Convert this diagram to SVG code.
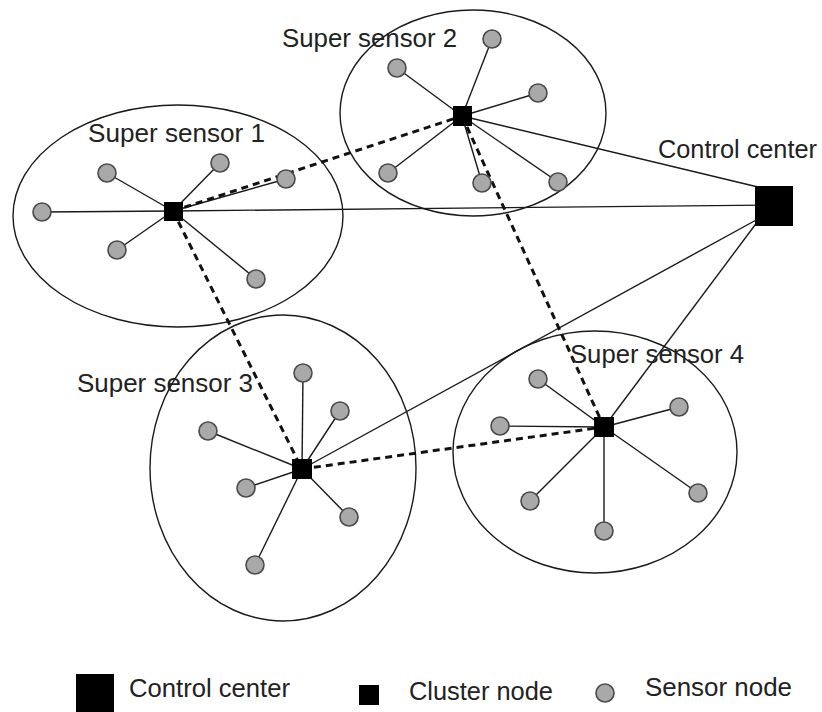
<svg xmlns="http://www.w3.org/2000/svg" width="822" height="712" viewBox="0 0 822 712">
  <style>
    .zone { fill: none; stroke: #1a1a1a; stroke-width: 1.4; }
    .link { stroke: #1a1a1a; stroke-width: 1.4; fill: none; }
    .backbone { stroke: #111; stroke-width: 3; stroke-dasharray: 7 5; fill: none; }
    .sensor { fill: #a9a9a9; stroke: #4a4a4a; stroke-width: 1.6; }
    .cluster { fill: #000; }
    .label { font-family: "Liberation Sans", Arial, sans-serif; font-size: 25px; fill: #222; }
  </style>

  <rect width="822" height="712" fill="#fff"/>

  <!-- coverage areas of the super sensors -->
  <g id="zones">
    <ellipse class="zone" cx="178" cy="216" rx="165" ry="111"/>
    <ellipse class="zone" cx="473" cy="113" rx="133" ry="103"/>
    <ellipse class="zone" cx="283" cy="468" rx="133" ry="153"/>
    <ellipse class="zone" cx="595" cy="452" rx="142" ry="121"/>
  </g>

  <g id="connectors">
    <!-- sensor links, cluster 1 -->
    <line class="link" x1="173" y1="211" x2="42" y2="212"/>
    <line class="link" x1="173" y1="211" x2="107" y2="173"/>
    <line class="link" x1="173" y1="211" x2="220" y2="163"/>
    <line class="link" x1="173" y1="211" x2="286" y2="179"/>
    <line class="link" x1="173" y1="211" x2="117" y2="250"/>
    <line class="link" x1="173" y1="211" x2="256" y2="279"/>
    <!-- sensor links, cluster 2 -->
    <line class="link" x1="462" y1="116" x2="492" y2="39"/>
    <line class="link" x1="462" y1="116" x2="397" y2="68"/>
    <line class="link" x1="462" y1="116" x2="538" y2="93"/>
    <line class="link" x1="462" y1="116" x2="388" y2="173"/>
    <line class="link" x1="462" y1="116" x2="482" y2="183"/>
    <line class="link" x1="462" y1="116" x2="558" y2="182"/>
    <!-- sensor links, cluster 3 -->
    <line class="link" x1="302" y1="469" x2="303" y2="373"/>
    <line class="link" x1="302" y1="469" x2="340" y2="411"/>
    <line class="link" x1="302" y1="469" x2="208" y2="431"/>
    <line class="link" x1="302" y1="469" x2="246" y2="488"/>
    <line class="link" x1="302" y1="469" x2="349" y2="517"/>
    <line class="link" x1="302" y1="469" x2="255" y2="565"/>
    <!-- sensor links, cluster 4 -->
    <line class="link" x1="604" y1="427" x2="538" y2="379"/>
    <line class="link" x1="604" y1="427" x2="679" y2="407"/>
    <line class="link" x1="604" y1="427" x2="500" y2="426"/>
    <line class="link" x1="604" y1="427" x2="530" y2="501"/>
    <line class="link" x1="604" y1="427" x2="698" y2="493"/>
    <line class="link" x1="604" y1="427" x2="604" y2="531"/>
    <!-- clusters to control center -->
    <line class="link" x1="173" y1="211" x2="774" y2="205"/>
    <line class="link" x1="462" y1="116" x2="758" y2="187"/>
    <line class="link" x1="302" y1="469" x2="758" y2="219"/>
    <line class="link" x1="604" y1="427" x2="758" y2="221"/>
    <!-- inter-cluster backbone -->
    <line class="backbone" x1="173" y1="211" x2="462" y2="116"/>
    <line class="backbone" x1="173" y1="211" x2="302" y2="469"/>
    <line class="backbone" x1="462" y1="116" x2="604" y2="427"/>
    <line class="backbone" x1="302" y1="469" x2="604" y2="427"/>
  </g>

  <g id="super-sensor-1">
    <circle class="sensor" cx="42" cy="212" r="9"/>
    <circle class="sensor" cx="107" cy="173" r="9"/>
    <circle class="sensor" cx="220" cy="163" r="9"/>
    <circle class="sensor" cx="286" cy="179" r="9"/>
    <circle class="sensor" cx="117" cy="250" r="9"/>
    <circle class="sensor" cx="256" cy="279" r="9"/>
    <rect class="cluster" x="164" y="202" width="19" height="19"/>
    <text class="label" x="88" y="142" textLength="177" lengthAdjust="spacingAndGlyphs">Super sensor 1</text>
  </g>

  <g id="super-sensor-2">
    <circle class="sensor" cx="492" cy="39" r="9"/>
    <circle class="sensor" cx="397" cy="68" r="9"/>
    <circle class="sensor" cx="538" cy="93" r="9"/>
    <circle class="sensor" cx="388" cy="173" r="9"/>
    <circle class="sensor" cx="482" cy="183" r="9"/>
    <circle class="sensor" cx="558" cy="182" r="9"/>
    <rect class="cluster" x="453" y="106" width="19" height="20"/>
    <text class="label" x="282" y="47" textLength="175" lengthAdjust="spacingAndGlyphs">Super sensor 2</text>
  </g>

  <g id="super-sensor-3">
    <circle class="sensor" cx="303" cy="373" r="9"/>
    <circle class="sensor" cx="340" cy="411" r="9"/>
    <circle class="sensor" cx="208" cy="431" r="9"/>
    <circle class="sensor" cx="246" cy="488" r="9"/>
    <circle class="sensor" cx="349" cy="517" r="9"/>
    <circle class="sensor" cx="255" cy="565" r="9"/>
    <rect class="cluster" x="292" y="459" width="20" height="20"/>
    <text class="label" x="77" y="392" textLength="176" lengthAdjust="spacingAndGlyphs">Super sensor 3</text>
  </g>

  <g id="super-sensor-4">
    <circle class="sensor" cx="538" cy="379" r="9"/>
    <circle class="sensor" cx="679" cy="407" r="9"/>
    <circle class="sensor" cx="500" cy="426" r="9"/>
    <circle class="sensor" cx="530" cy="501" r="9"/>
    <circle class="sensor" cx="698" cy="493" r="9"/>
    <circle class="sensor" cx="604" cy="531" r="9"/>
    <rect class="cluster" x="594" y="417" width="20" height="20"/>
    <text class="label" x="570" y="363" textLength="174" lengthAdjust="spacingAndGlyphs">Super sensor 4</text>
  </g>

  <g id="control-center">
    <rect class="cluster" x="755" y="186" width="38" height="40"/>
    <text class="label" x="658" y="158" textLength="159" lengthAdjust="spacingAndGlyphs">Control center</text>
  </g>

  <g id="legend">
    <rect class="cluster" x="76" y="674" width="38" height="38"/>
    <text class="label" x="129" y="697" textLength="161" lengthAdjust="spacingAndGlyphs">Control center</text>
    <rect class="cluster" x="359" y="685" width="20" height="20"/>
    <text class="label" x="409" y="700" textLength="144" lengthAdjust="spacingAndGlyphs">Cluster node</text>
    <circle class="sensor" cx="605" cy="693" r="9"/>
    <text class="label" x="645" y="696" textLength="147" lengthAdjust="spacingAndGlyphs">Sensor node</text>
  </g>
</svg>
